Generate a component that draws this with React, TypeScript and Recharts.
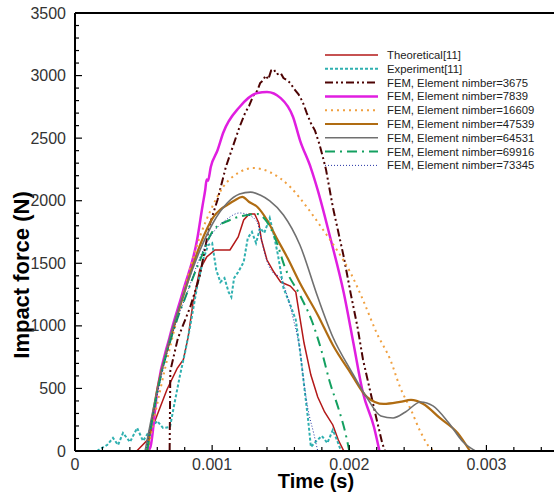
import React from 'react';
import { LineChart, Line, XAxis, YAxis, ReferenceLine, Label } from 'recharts';

// ---- tick values / labels ----
const xMajorTicks = [0, 0.001, 0.002, 0.003];
const xMajorLabels = ['0', '0.001', '0.002', '0.003'];
const xMinorTicks = [0.0002, 0.0004, 0.0006, 0.0008, 0.0012, 0.0014, 0.0016, 0.0018, 0.0022, 0.0024, 0.0026, 0.0028, 0.0032, 0.0034];
const yMajorTicks = [0, 500, 1000, 1500, 2000, 2500, 3000, 3500];
const yMinorTicks = [100, 200, 300, 400, 600, 700, 800, 900, 1100, 1200, 1300, 1400, 1600, 1700, 1800, 1900, 2100, 2200, 2300, 2400, 2600, 2700, 2800, 2900, 3100, 3200, 3300, 3400];

// ---- series data: [time (s), force (N)] ----
const theoretical = [
  [0.00045, 0], [0.00053, 90], [0.0006, 290], [0.00067, 490], [0.000745, 660], [0.00079, 730], [0.000825, 910],
  [0.00086, 1180], [0.00091, 1450], [0.00096, 1550], [0.00102, 1606], [0.00113, 1606], [0.00119, 1710],
  [0.00123, 1846], [0.00127, 1894], [0.00131, 1894], [0.00134, 1822], [0.00136, 1686], [0.0014, 1526],
  [0.00145, 1430], [0.0015, 1350], [0.00157, 1318], [0.00161, 1270], [0.00164, 1063], [0.00167, 863],
  [0.00172, 607], [0.00177, 431], [0.00182, 312], [0.00188, 208], [0.00192, 88], [0.00196, 0],
];
const experiment = [
  [0.00016, 0], [0.000234, 48], [0.000277, 104], [0.000314, 48], [0.00035, 144], [0.000401, 72], [0.000453, 184],
  [0.000496, 80], [0.000547, 168], [0.000599, 240], [0.000642, 184], [0.000693, 192], [0.000723, 368],
  [0.000766, 607], [0.000803, 791], [0.000839, 991], [0.00089, 1310], [0.000934, 1526], [0.000971, 1646],
  [0.001, 1662], [0.00103, 1446], [0.00106, 1350], [0.00109, 1382], [0.00112, 1270], [0.00114, 1230],
  [0.00116, 1382], [0.00119, 1430], [0.00123, 1510], [0.00126, 1702], [0.00129, 1750], [0.00132, 1662],
  [0.00135, 1782], [0.00138, 1742], [0.00142, 1862], [0.00145, 1726], [0.00148, 1566], [0.00152, 1302],
  [0.00157, 1167], [0.00161, 1047], [0.00164, 807], [0.00167, 527], [0.0017, 248], [0.00172, 32],
  [0.00176, 80], [0.0018, 120], [0.00184, 64], [0.00188, 168], [0.00191, 88], [0.00194, 0],
];
const fem3675 = [
  [0.00069, 0], [0.000695, 640], [0.00075, 900], [0.00084, 1150], [0.00091, 1400], [0.00098, 1800],
  [0.00104, 2010], [0.0011, 2270], [0.00115, 2430], [0.0012, 2590], [0.00124, 2700], [0.00127, 2760],
  [0.0013, 2840], [0.00133, 2880], [0.00135, 2940], [0.00137, 2960], [0.00139, 3000], [0.00141, 2970],
  [0.00143, 3040], [0.00145, 3050], [0.00147, 3010], [0.0015, 3020], [0.00152, 2980], [0.00155, 2960],
  [0.00157, 2940], [0.0016, 2890], [0.00163, 2850], [0.00166, 2790], [0.00169, 2700], [0.00172, 2620],
  [0.00175, 2560], [0.00178, 2460], [0.0018, 2380], [0.00183, 2250], [0.00188, 1950], [0.00196, 1550],
  [0.00201, 1260], [0.00206, 990], [0.0021, 730], [0.00215, 490], [0.0022, 250], [0.00224, 64], [0.00226, 0],
];
const fem7839 = [
  [0.00053, 0], [0.00055, 32], [0.0006, 487], [0.00069, 911], [0.00079, 1286], [0.00089, 1686],
  [0.00093, 1960], [0.00095, 2090], [0.00096, 2170], [0.00097, 2160], [0.00099, 2270], [0.00104, 2405],
  [0.00108, 2541], [0.0012, 2749], [0.00133, 2861], [0.0014, 2869], [0.0015, 2820], [0.00159, 2669],
  [0.00164, 2485], [0.00172, 2261], [0.00177, 2085], [0.00186, 1710], [0.00196, 1262], [0.00203, 863],
  [0.0021, 463], [0.00218, 192], [0.00222, 0],
];
const fem16609 = [
  [0.00053, 0], [0.00062, 480], [0.00072, 950], [0.00082, 1380], [0.00091, 1710],
  [0.00099, 1926], [0.00108, 2109], [0.0012, 2229], [0.0013, 2261], [0.00142, 2229], [0.00157, 2109],
  [0.00169, 1950], [0.00181, 1766], [0.00191, 1606], [0.00201, 1422], [0.0021, 1207], [0.0022, 943],
  [0.0023, 727], [0.00237, 511], [0.00245, 328], [0.00252, 152], [0.00259, 24], [0.00263, 0],
];
const fem47539 = [
  [0.000526, 0], [0.000599, 487], [0.000693, 887], [0.000803, 1286], [0.000912, 1646], [0.00101, 1870],
  [0.00106, 1930], [0.00111, 1966], [0.00116, 2000], [0.00122, 2030], [0.00127, 1990], [0.00133, 1950],
  [0.0014, 1846], [0.00147, 1702], [0.00155, 1542], [0.00164, 1342], [0.00177, 1087], [0.00188, 847],
  [0.00201, 623], [0.00213, 431], [0.00225, 376], [0.00237, 392], [0.00245, 408], [0.00254, 376],
  [0.00266, 264], [0.00279, 144], [0.00288, 0],
];
const fem64531 = [
  [0.000511, 0], [0.000584, 407], [0.000693, 911], [0.000803, 1286], [0.000912, 1606], [0.00101, 1830],
  [0.00111, 1982], [0.0012, 2053], [0.00128, 2069], [0.00135, 2045], [0.00142, 1998], [0.00152, 1886],
  [0.00164, 1646], [0.00177, 1230], [0.00188, 911], [0.00201, 647], [0.00213, 423], [0.00223, 280],
  [0.00232, 264], [0.00241, 312], [0.00252, 392], [0.00261, 360], [0.00272, 232], [0.00283, 72], [0.00292, 0],
];
const fem69916 = [
  [0.000526, 0], [0.000599, 463], [0.000708, 927], [0.000825, 1286], [0.000912, 1526], [0.00101, 1766],
  [0.00113, 1846], [0.00126, 1886], [0.00133, 1894], [0.0014, 1830], [0.00147, 1670], [0.00153, 1470],
  [0.00164, 1246], [0.00173, 1031], [0.0018, 791], [0.00186, 543], [0.00192, 344], [0.00197, 152], [0.002, 0],
];
const fem73345 = [
  [0.000518, 0], [0.000599, 447], [0.000708, 927], [0.000825, 1286], [0.000912, 1550], [0.00101, 1750],
  [0.0011, 1846], [0.0012, 1902], [0.00128, 1878], [0.00133, 1822], [0.00136, 1686], [0.00139, 1550],
  [0.00144, 1430], [0.0015, 1382], [0.00155, 1230], [0.00159, 1063], [0.00164, 807], [0.00167, 543],
  [0.0017, 328], [0.00174, 144], [0.00177, 0],
];

const seriesNames = [
  'Theoretical[11]', 'Experiment[11]', 'FEM, Element nimber=3675', 'FEM, Element nimber=7839',
  'FEM, Element nimber=16609', 'FEM, Element nimber=47539', 'FEM, Element nimber=64531',
  'FEM, Element nimber=69916', 'FEM, Element nimber=73345',
];
const seriesData = [theoretical, experiment, fem3675, fem7839, fem16609, fem47539, fem64531, fem69916, fem73345];
const seriesStyles = [
  { color: '#b31818', width: 1.5, dash: undefined, curve: 'linear' },
  { color: '#2fb0b0', width: 2, dash: '3 2', curve: 'linear' },
  { color: '#4d0303', width: 2, dash: '8 3 2 3 2 3', curve: 'linear' },
  { color: '#e01ee0', width: 2.5, dash: undefined, curve: 'monotone' },
  { color: '#f0a040', width: 2, dash: '2 4', curve: 'monotone' },
  { color: '#b06c12', width: 2.2, dash: undefined, curve: 'monotone' },
  { color: '#707070', width: 1.6, dash: undefined, curve: 'monotone' },
  { color: '#13a060', width: 2, dash: '10 5 2 5', curve: 'monotone' },
  { color: '#2535a5', width: 1, dash: '1 2', curve: 'monotone' },
];

const toPts = (arr: number[][]) => arr.map(([t, f]) => ({ t, f }));

const FONT = '"Liberation Sans", Arial, sans-serif';

const isIn = (v: number, arr: number[]) => arr.findIndex((a) => Math.abs(a - v) < 1e-9);

const XTick = (props: any) => {
  const { x, y, payload } = props;
  const idx = isIn(payload.value, xMajorTicks);
  const major = idx >= 0;
  return (
    <g>
      <line x1={x} x2={x} y1={y} y2={y - (major ? 6 : 4)} stroke="#000" strokeWidth={1.2} />
      {major && (
        <text x={x} y={y + 13} textAnchor="middle" dominantBaseline="central" fontSize={16} fontFamily={FONT} fill="#333">
          {xMajorLabels[idx]}
        </text>
      )}
    </g>
  );
};

const YTick = (props: any) => {
  const { x, y, payload } = props;
  const major = isIn(payload.value, yMajorTicks) >= 0;
  return (
    <g>
      <line x1={x} x2={x + (major ? 7 : 4)} y1={y} y2={y} stroke="#000" strokeWidth={1.2} />
      {major && (
        <text x={x - 9} y={y} textAnchor="end" dominantBaseline="central" fontSize={16} fontFamily={FONT} fill="#333">
          {String(payload.value)}
        </text>
      )}
    </g>
  );
};

const XTitle = () => (
  <text x={316} y={481} textAnchor="middle" dominantBaseline="central" fontSize={20} fontWeight="bold" fontFamily={FONT} fill="#000">
    Time (s)
  </text>
);
const YTitle = () => (
  <text x={21} y={275} transform="rotate(-90 21 275)" textAnchor="middle" dominantBaseline="central" fontSize={22} fontWeight="bold" fontFamily={FONT} fill="#000">
    Impact force (N)
  </text>
);

export default function App() {
  const xTicks = [...xMajorTicks, ...xMinorTicks].sort((a, b) => a - b);
  const yTicks = [...yMajorTicks, ...yMinorTicks].sort((a, b) => a - b);
  return (
    <div style={{ position: 'absolute', left: 0, top: 0, width: 554, height: 492, overflow: 'hidden', background: '#fff' }}>
      <LineChart width={560} height={492} margin={{ top: 13, right: 5, bottom: 0, left: 0 }}>
        <XAxis
          type="number"
          dataKey="t"
          domain={[0, 0.0035]}
          allowDataOverflow
          ticks={xTicks}
          interval={0}
          tickSize={0}
          tickMargin={0}
          tickLine={false}
          axisLine={{ stroke: '#000', strokeWidth: 2 }}
          tick={(p: any) => <XTick {...p} />}
          height={41}
        >
          <Label content={XTitle} />
        </XAxis>
        <YAxis
          type="number"
          domain={[0, 3500]}
          allowDataOverflow
          ticks={yTicks}
          interval={0}
          tickSize={0}
          tickMargin={0}
          tickLine={false}
          axisLine={{ stroke: '#000', strokeWidth: 2 }}
          tick={(p: any) => <YTick {...p} />}
          width={75}
        >
          <Label content={YTitle} />
        </YAxis>
        <ReferenceLine y={3500} stroke="#000" strokeWidth={2} />
        {seriesData.map((d, i) => (
          <Line
            key={seriesNames[i]}
            data={toPts(d)}
            dataKey="f"
            name={seriesNames[i]}
            type={seriesStyles[i].curve as any}
            stroke={seriesStyles[i].color}
            strokeWidth={seriesStyles[i].width}
            strokeDasharray={seriesStyles[i].dash}
            dot={false}
            activeDot={false}
            isAnimationActive={false}
          />
        ))}
      </LineChart>
      <svg style={{ position: 'absolute', left: 320, top: 45 }} width={234} height={130}>
        {seriesNames.map((n, i) => {
          const y = 10 + i * 13.8;
          const s = seriesStyles[i];
          return (
            <g key={n}>
              <line x1={5} x2={58} y1={y} y2={y} stroke={s.color} strokeWidth={s.width} strokeDasharray={s.dash} />
              <text x={67} y={y} dominantBaseline="central" fontSize={11.3} fontFamily={FONT} fill="#222">
                {n}
              </text>
            </g>
          );
        })}
      </svg>
    </div>
  );
}
